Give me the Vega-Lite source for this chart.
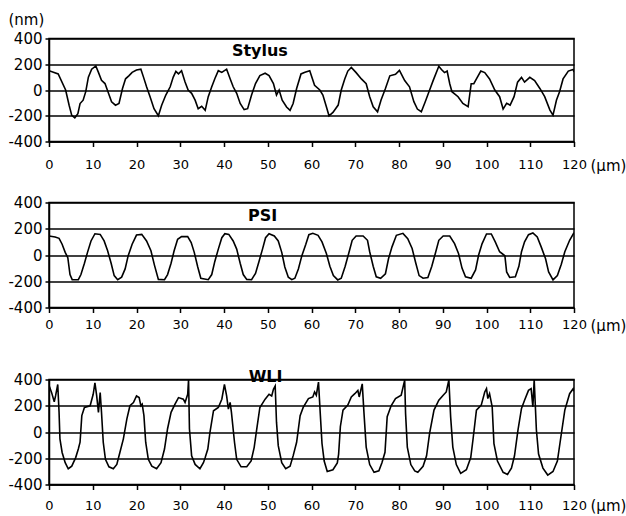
{
  "$schema": "https://vega.github.io/schema/vega-lite/v6.json",
  "background": "white",
  "padding": {"left": 7, "top": 11.5, "right": 0, "bottom": 0},
  "spacing": 33,
  "config": {
    "view": {"stroke": "black", "strokeWidth": 1.5},
    "axisX": {
      "values": [0, 20, 40, 60, 80, 100, 120],
      "grid": false, "domain": true, "domainColor": "black", "domainWidth": 1.5,
      "tickColor": "black", "tickSize": 5, "tickWidth": 1.5,
      "labelFont": "DejaVu Sans", "labelFontSize": 13, "labelColor": "black",
      "labelPadding": 12, "labelFlush": false, "labelOverlap": false, "labelBound": false,
      "titleFont": "DejaVu Sans", "titleFontSize": 15, "titleFontWeight": "normal", "titleColor": "black",
      "titleAlign": "left", "titleBaseline": "alphabetic", "titleX": 541, "titleY": 29
    },
    "axisY": {
      "values": [-400, -200, 0, 200, 400],
      "grid": true, "gridColor": "black", "gridWidth": 1.5, "gridOpacity": 1,
      "domain": true, "domainColor": "black", "domainWidth": 1.5,
      "tickColor": "black", "tickSize": 4, "tickWidth": 1.5,
      "labelFont": "DejaVu Sans", "labelFontSize": 15, "labelColor": "black",
      "labelPadding": 3, "labelFlush": false, "labelOverlap": false, "labelBound": false,
      "labelExpr": "replace(datum.label, '\u2212', '-')",
      "titleFont": "DejaVu Sans", "titleFontSize": 15, "titleFontWeight": "normal", "titleColor": "black",
      "titleAngle": 0, "titleAlign": "left", "titleBaseline": "alphabetic", "titleX": -41, "titleY": -14
    }
  },
  "datasets": {
    "stylus": [
      {"x":0,"y":150},{"x":2.1,"y":125},{"x":3.8,"y":0},{"x":4.6,"y":-118},{"x":5.2,"y":-197},{"x":5.9,"y":-216},{"x":6.6,"y":-184},{"x":7.1,"y":-105},{"x":7.8,"y":-79},{"x":8.4,"y":-13},{"x":9.0,"y":100},{"x":9.75,"y":162},{"x":10.7,"y":187},{"x":11.3,"y":137},{"x":12,"y":75},{"x":12.8,"y":50},{"x":13.6,"y":-26},{"x":14.3,"y":-92},{"x":15.2,"y":-118},{"x":16,"y":-105},{"x":16.8,"y":12},{"x":17.5,"y":87},{"x":18.3,"y":112},{"x":19,"y":137},{"x":20,"y":155},{"x":21,"y":162},{"x":21.6,"y":100},{"x":22.3,"y":25},{"x":23.1,"y":-52},{"x":24,"y":-145},{"x":25,"y":-200},{"x":25.75,"y":-118},{"x":26.7,"y":-39},{"x":27.7,"y":25},{"x":28.4,"y":100},{"x":29,"y":145},{"x":29.6,"y":125},{"x":30.3,"y":150},{"x":31.1,"y":62},{"x":31.8,"y":0},{"x":32.6,"y":-26},{"x":33.4,"y":-79},{"x":34.1,"y":-145},{"x":34.9,"y":-126},{"x":35.7,"y":-158},{"x":36.4,"y":-52},{"x":37.2,"y":25},{"x":37.9,"y":87},{"x":38.7,"y":150},{"x":39.5,"y":137},{"x":40.6,"y":162},{"x":41.4,"y":87},{"x":42.1,"y":25},{"x":42.9,"y":-26},{"x":43.7,"y":-105},{"x":44.6,"y":-152},{"x":45.4,"y":-145},{"x":46.3,"y":-39},{"x":47.2,"y":50},{"x":48.2,"y":112},{"x":49.4,"y":130},{"x":50.3,"y":112},{"x":51.3,"y":50},{"x":52,"y":-39},{"x":52.6,"y":0},{"x":53.3,"y":-79},{"x":54.3,"y":-132},{"x":55.1,"y":-158},{"x":55.8,"y":-105},{"x":56.6,"y":12},{"x":57.6,"y":125},{"x":58.5,"y":137},{"x":59.6,"y":150},
      {"x":60.7,"y":37},{"x":61.9,"y":0},{"x":62.6,"y":-39},{"x":63.4,"y":-130},{"x":64.0,"y":-200},{"x":64.9,"y":-174},{"x":66.1,"y":-117},{"x":66.8,"y":0},{"x":67.6,"y":86},{"x":68.3,"y":147},{"x":69.1,"y":176},{"x":70.2,"y":135},{"x":71.4,"y":86},{"x":72.5,"y":49},{"x":73.3,"y":-52},{"x":74.1,"y":-130},{"x":75.1,"y":-169},{"x":75.9,"y":-78},{"x":76.9,"y":12},{"x":77.9,"y":110},{"x":79.2,"y":122},{"x":80.1,"y":152},{"x":81.3,"y":73},{"x":82.4,"y":25},{"x":83.4,"y":-91},{"x":84.2,"y":-148},{"x":85.1,"y":-169},{"x":86.0,"y":-91},{"x":87.0,"y":0},{"x":87.8,"y":73},{"x":89.1,"y":184},{"x":89.7,"y":159},{"x":90.4,"y":135},{"x":91.0,"y":147},{"x":91.6,"y":49},{"x":92.1,"y":-13},{"x":93.5,"y":-52},{"x":94.6,"y":-104},{"x":95.8,"y":-130},{"x":96.5,"y":49},{"x":97.1,"y":49},{"x":97.7,"y":86},{"x":98.7,"y":147},{"x":99.6,"y":135},{"x":100.7,"y":86},{"x":101.9,"y":0},{"x":103.0,"y":-52},{"x":103.8,"y":-148},{"x":104.6,"y":-104},{"x":105.4,"y":-117},{"x":106.3,"y":-52},{"x":107.1,"y":61},{"x":108.0,"y":98},{"x":108.7,"y":61},{"x":109.9,"y":98},{"x":111.0,"y":73},{"x":112.2,"y":12},{"x":113.3,"y":-52},{"x":114.5,"y":-156},{"x":115.2,"y":-195},{"x":116.0,"y":-78},{"x":116.7,"y":-13},{"x":117.5,"y":86},{"x":118.7,"y":147},{"x":119.8,"y":159},{"x":120,"y":140}
    ],
    "psi": [
      {"x":0,"y":145},{"x":1.4,"y":137},{"x":2.3,"y":127},{"x":3,"y":82},{"x":3.7,"y":20},{"x":4.3,"y":-20},{"x":4.8,"y":-149},{"x":5.3,"y":-188},{"x":6.7,"y":-188},{"x":7.3,"y":-149},{"x":8.1,"y":-63},{"x":8.8,"y":20},{"x":9.6,"y":107},{"x":10.5,"y":162},{"x":11.7,"y":157},{"x":12.6,"y":107},{"x":13.4,"y":32},{"x":14.2,"y":-63},{"x":14.9,"y":-157},{"x":15.7,"y":-188},{"x":16.6,"y":-169},{"x":17.4,"y":-106},{"x":18.1,"y":-5},{"x":19,"y":82},{"x":20,"y":152},{"x":21.2,"y":157},{"x":22.3,"y":107},{"x":23.3,"y":32},{"x":24.1,"y":-77},{"x":25,"y":-186},{"x":26.4,"y":-188},{"x":27.1,"y":-149},{"x":27.9,"y":-63},{"x":28.6,"y":32},{"x":29.4,"y":120},{"x":30.3,"y":140},{"x":31.7,"y":140},{"x":32.5,"y":95},{"x":33.2,"y":20},{"x":34,"y":-91},{"x":34.7,"y":-177},{"x":36.4,"y":-188},{"x":37.2,"y":-149},{"x":37.9,"y":-49},{"x":38.7,"y":45},{"x":39.5,"y":132},{"x":40.2,"y":162},{"x":41.1,"y":157},{"x":42.1,"y":107},{"x":42.9,"y":45},{"x":43.7,"y":-63},{"x":44.4,"y":-149},{"x":45.2,"y":-186},{"x":46.3,"y":-188},{"x":47.2,"y":-140},{"x":48,"y":-49},{"x":48.8,"y":45},{"x":49.5,"y":132},{"x":50.3,"y":162},{"x":51.5,"y":145},{"x":52.4,"y":107},{"x":53.2,"y":20},{"x":53.9,"y":-91},{"x":54.7,"y":-169},{"x":55.5,"y":-188},{"x":56.2,"y":-177},{"x":57,"y":-106},{"x":57.8,"y":-5},{"x":58.7,"y":82},{"x":59.4,"y":155},
      {"x":60.3,"y":165},{"x":61.5,"y":150},{"x":62.4,"y":100},{"x":63.4,"y":12},{"x":64.2,"y":-86},{"x":65,"y":-157},{"x":66,"y":-190},{"x":66.8,"y":-177},{"x":67.7,"y":-86},{"x":68.5,"y":12},{"x":69.3,"y":112},{"x":70.2,"y":145},{"x":71.8,"y":145},{"x":72.8,"y":112},{"x":73.3,"y":25},{"x":74.1,"y":-86},{"x":74.8,"y":-166},{"x":75.8,"y":-177},{"x":76.9,"y":-143},{"x":77.6,"y":-29},{"x":78.4,"y":62},{"x":79.4,"y":150},{"x":80.9,"y":165},{"x":82,"y":125},{"x":83,"y":50},{"x":83.8,"y":-57},{"x":84.6,"y":-157},{"x":85.5,"y":-177},{"x":86.6,"y":-171},{"x":87.5,"y":-86},{"x":88.3,"y":12},{"x":89.1,"y":112},{"x":90.1,"y":145},{"x":91.6,"y":145},{"x":92.7,"y":87},{"x":93.6,"y":12},{"x":94.4,"y":-100},{"x":95.2,"y":-166},{"x":96.5,"y":-177},{"x":97.5,"y":-114},{"x":98.2,"y":0},{"x":99,"y":87},{"x":100,"y":160},{"x":101.1,"y":160},{"x":102,"y":100},{"x":103,"y":25},{"x":104.2,"y":-6},{"x":104.6,"y":-129},{"x":105.3,"y":-171},{"x":106.6,"y":-166},{"x":107.4,"y":-86},{"x":108,"y":25},{"x":108.7,"y":100},{"x":109.6,"y":155},{"x":110.6,"y":168},{"x":111.6,"y":137},{"x":112.5,"y":62},{"x":113.5,"y":-29},{"x":114.2,"y":-129},{"x":115.2,"y":-190},{"x":116.2,"y":-157},{"x":117.1,"y":-71},{"x":117.9,"y":25},{"x":119,"y":112},{"x":120,"y":170}
    ],
    "wli": [
      {"x":0,"y":330},{"x":0.2,"y":337},{"x":0.6,"y":300},{"x":1.2,"y":230},{"x":1.5,"y":275},{"x":2,"y":362},{"x":2.3,"y":150},{"x":2.5,"y":-52},{"x":3,"y":-156},{"x":3.7,"y":-234},{"x":4.4,"y":-280},{"x":5.2,"y":-260},{"x":6.1,"y":-195},{"x":6.7,"y":-130},{"x":7.1,"y":-78},{"x":7.5,"y":125},{"x":8.1,"y":187},{"x":9.4,"y":200},{"x":10.1,"y":287},{"x":10.5,"y":375},{"x":10.9,"y":275},{"x":11.3,"y":150},{"x":11.7,"y":300},{"x":12,"y":150},{"x":12.4,"y":-78},{"x":12.9,"y":-208},{"x":13.7,"y":-265},{"x":14.7,"y":-280},{"x":15.5,"y":-247},{"x":16.2,"y":-156},{"x":17,"y":-52},{"x":17.8,"y":100},{"x":18.5,"y":200},{"x":19.3,"y":225},{"x":20,"y":275},{"x":20.6,"y":262},{"x":21,"y":200},{"x":21.3,"y":212},{"x":21.7,"y":125},{"x":22.1,"y":-78},{"x":22.7,"y":-208},{"x":23.5,"y":-260},{"x":24.6,"y":-280},{"x":25.6,"y":-234},{"x":26.4,"y":-130},{"x":27.1,"y":25},{"x":27.9,"y":150},{"x":28.8,"y":212},{"x":29.6,"y":262},{"x":30.7,"y":250},{"x":31.1,"y":225},{"x":31.7,"y":287},{"x":31.9,"y":400},{"x":32.1,"y":25},{"x":32.6,"y":-182},{"x":33.4,"y":-247},{"x":34.5,"y":-280},{"x":35.3,"y":-234},{"x":35.7,"y":-195},{"x":36.3,"y":-130},{"x":36.8,"y":0},{"x":37.6,"y":162},{"x":38.7,"y":187},{"x":39.5,"y":250},{"x":40.1,"y":362},{"x":40.6,"y":275},{"x":41,"y":175},{"x":41.4,"y":225},{"x":41.7,"y":150},{"x":42.4,"y":-78},{"x":42.9,"y":-208},{"x":43.9,"y":-265},{"x":45.2,"y":-265},{"x":46.2,"y":-221},{"x":46.9,"y":-117},{"x":47.5,"y":25},{"x":48.2,"y":187},{"x":49.4,"y":250},{"x":50.3,"y":287},{"x":50.9,"y":275},{"x":51.3,"y":325},{"x":51.7,"y":350},{"x":52,"y":75},{"x":52.4,"y":-104},{"x":53.2,"y":-234},{"x":54.1,"y":-280},{"x":55.1,"y":-260},{"x":55.8,"y":-182},{"x":56.6,"y":-78},{"x":57.4,"y":125},{"x":58.1,"y":187},{"x":59.3,"y":255},
      {"x":60.3,"y":267},{"x":60.7,"y":305},{"x":61.1,"y":280},{"x":61.6,"y":380},{"x":62,"y":142},{"x":62.4,"y":-88},{"x":62.9,"y":-221},{"x":63.6,"y":-301},{"x":64.9,"y":-288},{"x":65.9,"y":-235},{"x":66.2,"y":-168},{"x":66.6,"y":42},{"x":67.2,"y":167},{"x":68.3,"y":205},{"x":69.1,"y":267},{"x":69.9,"y":292},{"x":70.6,"y":317},{"x":70.9,"y":267},{"x":71.6,"y":367},{"x":72,"y":142},{"x":72.5,"y":-115},{"x":73.3,"y":-248},{"x":74.3,"y":-307},{"x":75.4,"y":-296},{"x":76.1,"y":-235},{"x":76.8,"y":-155},{"x":77.3,"y":117},{"x":78.2,"y":200},{"x":79.2,"y":255},{"x":80.5,"y":280},{"x":81.3,"y":395},{"x":81.5,"y":142},{"x":81.9,"y":-115},{"x":82.7,"y":-248},{"x":83.6,"y":-296},{"x":84.3,"y":-307},{"x":85.5,"y":-261},{"x":86.3,"y":-181},{"x":87,"y":-8},{"x":88,"y":167},{"x":89.1,"y":242},{"x":90.1,"y":280},{"x":90.8,"y":305},{"x":91.4,"y":397},{"x":91.8,"y":117},{"x":92.3,"y":-115},{"x":93.1,"y":-248},{"x":94.1,"y":-315},{"x":95.4,"y":-288},{"x":96.4,"y":-195},{"x":96.9,"y":-61},{"x":97.7,"y":167},{"x":98.8,"y":205},{"x":99.6,"y":305},{"x":100,"y":330},{"x":100.3,"y":255},{"x":100.7,"y":292},{"x":101.3,"y":192},{"x":101.7,"y":-88},{"x":102.5,"y":-221},{"x":103.8,"y":-307},{"x":104.8,"y":-323},{"x":105.7,"y":-275},{"x":106.4,"y":-181},{"x":107.2,"y":17},{"x":108,"y":180},{"x":108.7,"y":242},{"x":109.6,"y":317},{"x":110.2,"y":330},{"x":110.6,"y":192},{"x":110.9,"y":400},{"x":111.4,"y":17},{"x":111.9,"y":-168},{"x":112.9,"y":-275},{"x":114,"y":-328},{"x":115.2,"y":-301},{"x":116.2,"y":-221},{"x":116.9,"y":-61},{"x":117.9,"y":167},{"x":119,"y":292},{"x":119.8,"y":330},{"x":120,"y":310}
    ]
  },
  "vconcat": [
    {
      "spacing": 20,
      "vconcat": [
        {
          "width": 525, "height": 103,
          "layer": [
            {
              "data": {"name": "stylus"},
              "mark": {"type": "line", "color": "black", "strokeWidth": 1.6, "clip": true},
              "encoding": {
                "x": {"field": "x", "type": "quantitative", "scale": {"domain": [0, 120], "nice": false, "zero": false}, "axis": {"title": "(\u03bcm)"}},
                "y": {"field": "y", "type": "quantitative", "scale": {"domain": [-400, 400], "nice": false}, "axis": {"title": "(nm)"}}
              }
            },
            {
              "data": {"values": [{}]},
              "mark": {"type": "text", "text": "Stylus", "font": "DejaVu Sans", "fontWeight": "bold", "fontSize": 16, "color": "black"},
              "encoding": {"x": {"datum": 48.2}, "y": {"datum": 305}}
            }
          ]
        },
        {
          "width": 525, "height": 105,
          "layer": [
            {
              "data": {"name": "psi"},
              "mark": {"type": "line", "color": "black", "strokeWidth": 1.6, "clip": true},
              "encoding": {
                "x": {"field": "x", "type": "quantitative", "scale": {"domain": [0, 120], "nice": false, "zero": false}, "axis": {"title": "(\u03bcm)", "labelPadding": 6, "titleY": 23}},
                "y": {"field": "y", "type": "quantitative", "scale": {"domain": [-400, 400], "nice": false}, "axis": {"title": null}}
              }
            },
            {
              "data": {"values": [{}]},
              "mark": {"type": "text", "text": "PSI", "font": "DejaVu Sans", "fontWeight": "bold", "fontSize": 16, "color": "black"},
              "encoding": {"x": {"datum": 48.8}, "y": {"datum": 296}}
            }
          ]
        }
      ]
    },
    {
      "width": 525, "height": 105,
      "layer": [
        {
          "data": {"name": "wli"},
          "mark": {"type": "line", "color": "black", "strokeWidth": 1.6, "clip": true},
          "encoding": {
            "x": {"field": "x", "type": "quantitative", "scale": {"domain": [0, 120], "nice": false, "zero": false}, "axis": {"title": "(\u03bcm)", "labelPadding": 10, "titleY": 26}},
            "y": {"field": "y", "type": "quantitative", "scale": {"domain": [-400, 400], "nice": false}, "axis": {"title": null}}
          }
        },
        {
          "data": {"values": [{}]},
          "mark": {"type": "text", "text": "WLI", "font": "DejaVu Sans", "fontWeight": "bold", "fontSize": 16, "color": "black"},
          "encoding": {"x": {"datum": 49.5}, "y": {"datum": 420}}
        }
      ]
    }
  ]
}
